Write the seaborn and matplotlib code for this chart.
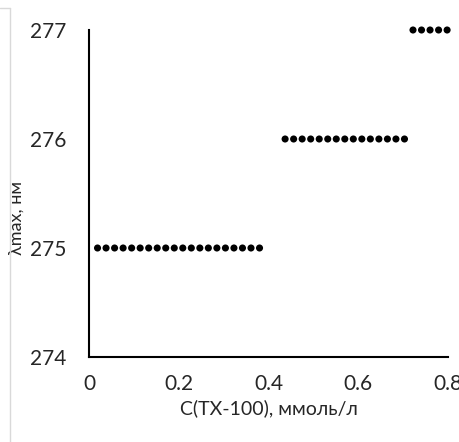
import matplotlib
matplotlib.use("Agg")
import matplotlib.pyplot as plt
from matplotlib.lines import Line2D
import seaborn as sns
import pandas as pd

# Surfactant concentration (mmol/L) and absorption maximum (nm)
conc_275 = [0.019, 0.038, 0.057, 0.076, 0.095, 0.114, 0.133, 0.152, 0.171, 0.190,
            0.209, 0.228, 0.247, 0.266, 0.285, 0.304, 0.323, 0.342, 0.361, 0.380]
conc_276 = [0.437, 0.456, 0.475, 0.494, 0.513, 0.532, 0.551, 0.570, 0.589, 0.608,
            0.627, 0.646, 0.665, 0.684, 0.703]
conc_277 = [0.722, 0.741, 0.760, 0.779, 0.798]

x_ticks = [0, 0.2, 0.4, 0.6, 0.8]
x_tick_labels = ["0", "0.2", "0.4", "0.6", "0.8"]
y_ticks = [274, 275, 276, 277]

df = pd.DataFrame({
    "c": conc_275 + conc_276 + conc_277,
    "lam": [275] * len(conc_275) + [276] * len(conc_276) + [277] * len(conc_277),
})

sns.set_theme(style="white")
plt.rcParams["font.family"] = ["Lato", "DejaVu Sans"]

W, H = 459, 442
fig = plt.figure(figsize=(W / 100, H / 100), dpi=100)
ax = fig.add_axes([89 / W, 1 - 357 / H, (448 - 89) / W, (357 - 30) / H])

sns.scatterplot(data=df, x="c", y="lam", ax=ax, color="black", s=26,
                edgecolor="none", legend=False, clip_on=False, zorder=3)

ax.set_xlim(0, 0.8)
ax.set_ylim(274, 277)
ax.set_xticks(x_ticks)
ax.set_xticklabels(x_tick_labels)
ax.set_yticks(y_ticks)
ax.tick_params(axis="both", length=0, labelsize=15, colors="#262626")
ax.tick_params(axis="y", pad=16)
ax.tick_params(axis="x", pad=12)

for side in ("top", "right"):
    ax.spines[side].set_visible(False)
for side in ("left", "bottom"):
    ax.spines[side].set_color("black")
    ax.spines[side].set_linewidth(1.5)

ax.set_xlabel("C(TX-100), ммоль/л", fontsize=14, color="#262626", labelpad=4)
ax.set_ylabel("λmax, нм", fontsize=13, color="#262626")
ax.yaxis.set_label_coords(-(89 - 25) / (448 - 89), (357 - 218) / (357 - 30))

# thin frame edge at the left of the canvas
fig.add_artist(Line2D([10 / W, 10 / W], [0, 1 - 8 / H], transform=fig.transFigure,
                      color="#d9d9d9", linewidth=1))
fig.add_artist(Line2D([0, 10 / W], [1 - 8 / H, 1 - 8 / H], transform=fig.transFigure,
                      color="#d9d9d9", linewidth=1))

fig.savefig("out.png", dpi=100, facecolor="white")
